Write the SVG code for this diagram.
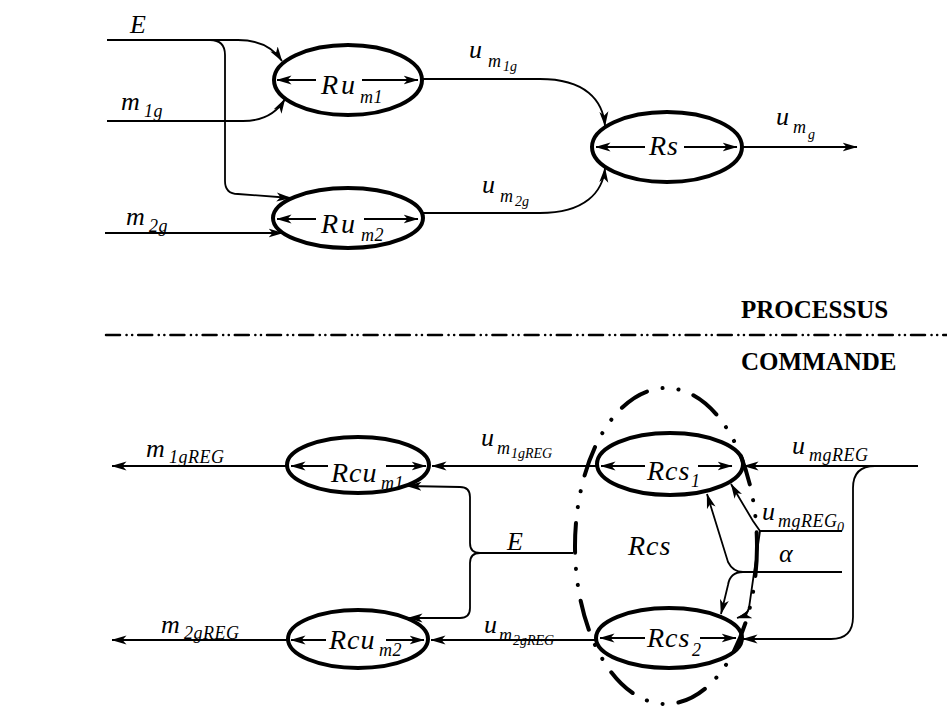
<svg xmlns="http://www.w3.org/2000/svg" width="947" height="706" viewBox="0 0 947 706">
<defs>
<marker id="ah" viewBox="0 0 15 10" refX="14.5" refY="5" markerWidth="15" markerHeight="10" markerUnits="userSpaceOnUse" orient="auto">
<path d="M0,0.5 L15,5 L0,9.5 L4,5 z" fill="#000"/>
</marker>
</defs>
<style>
.node ellipse{fill:none;stroke:#000;stroke-width:4}
.ln{fill:none;stroke:#000;stroke-width:1.8}
.ar{fill:none;stroke:#000;stroke-width:1.8;marker-end:url(#ah)}
text{font-family:"Liberation Serif","Times New Roman",serif;font-style:italic;fill:#000}
.lab{font-size:26px}
.big{font-size:28px;letter-spacing:1px}
.wide{letter-spacing:3px}
.sub{font-size:18px;letter-spacing:0.5px}
.ss{font-size:14px}
.hdr{font-style:normal;font-weight:bold;font-size:25px}
.div{fill:none;stroke:#000;stroke-width:2.5;stroke-linecap:round;stroke-dasharray:14 6.5 0.1 5.5 0.1 6}
.grp{fill:none;stroke:#000;stroke-width:4;stroke-linecap:round;stroke-dasharray:30 16 0.1 16 0.1 16}
</style>

<g id="connectors">
<path class="ar" d="M107,40 L238,40 Q268,40 282,61"/>
<path class="ar" d="M210,40 Q225,40 225,55 L225,181 Q225,194 238,194 L291,198"/>
<path class="ar" d="M107,121 L243,121 Q272,121 285,99"/>
<path class="ar" d="M105,233 L283,233"/>
<path class="ar" d="M422,79 L540,79 C585,79 603,100 605,126"/>
<path class="ar" d="M422,213 L540,213 C585,213 603,192 605,168"/>
<path class="ar" d="M742,147 L857,147"/>
<path class="ar" d="M287,466 L112,466"/>
<path class="ar" d="M288,640 L112,640"/>
<path class="ar" d="M597,466 L432,466"/>
<path class="ar" d="M596,640 L431,640"/>
<path class="ln" d="M573,553 L480,553"/>
<path class="ar" d="M480,553 Q470,553 470,543 L470,497 Q470,487 460,487 L407,486"/>
<path class="ar" d="M480,553 Q470,553 470,563 L470,608 Q470,618 460,618 L408,618"/>
<path class="ar" d="M918,466 L744,466"/>
<path class="ar" d="M875,466 Q853,466 853,488 L853,617 Q853,639 831,639 L743,639"/>
<path class="ln" d="M842,531 L760,531"/>
<path class="ar" d="M760,531 L753,521 L731,484"/>
<path class="ar" d="M760,531 L749,608 Q747,615 737,618"/>
<path class="ln" d="M842,572 L743,572"/>
<path class="ar" d="M743,572 Q733,572 728,562 L707,494"/>
<path class="ar" d="M743,572 Q730,572 728,585 L721,614"/>
<path class="ar" d="M316,80 L277,80"/>
<path class="ar" d="M362,80 L418,80"/>
<path class="ar" d="M316,219 L277,219"/>
<path class="ar" d="M364,219 L418,219"/>
<path class="ar" d="M645,147 L596,147"/>
<path class="ar" d="M684,147 L737,147"/>
<path class="ar" d="M328,466 L291,466"/>
<path class="ar" d="M386,466 L426,466"/>
<path class="ar" d="M326,640 L291,640"/>
<path class="ar" d="M386,640 L424,640"/>
<path class="ar" d="M645,466 L601,466"/>
<path class="ar" d="M698,466 L732,466"/>
<path class="ar" d="M645,638 L600,638"/>
<path class="ar" d="M700,638 L736,638"/>
</g>

<g id="Ru_m1" class="node">
<ellipse cx="348" cy="80" rx="74" ry="35"/>
<text class="big wide" x="321" y="94">Ru<tspan class="sub" x="360" y="103">m1</tspan></text>
</g>
<g id="Ru_m2" class="node">
<ellipse cx="348" cy="218" rx="75" ry="30"/>
<text class="big wide" x="321" y="233">Ru<tspan class="sub" x="361" y="241">m2</tspan></text>
</g>
<g id="Rs" class="node">
<ellipse cx="667" cy="147" rx="75" ry="35"/>
<text class="big" x="649" y="155">Rs</text>
</g>
<g id="Rcu_m1" class="node">
<ellipse cx="358" cy="465" rx="71" ry="28"/>
<text class="big" x="331" y="482">Rcu<tspan class="sub" x="381" y="489">m1</tspan></text>
</g>
<g id="Rcu_m2" class="node">
<ellipse cx="358" cy="639" rx="70" ry="29"/>
<text class="big" x="329" y="649">Rcu<tspan class="sub" x="379" y="656">m2</tspan></text>
</g>
<g id="Rcs1" class="node">
<ellipse cx="670" cy="464" rx="73" ry="31"/>
<text class="big" x="647" y="480">Rcs<tspan class="sub" x="691" y="487">1</tspan></text>
</g>
<g id="Rcs2" class="node">
<ellipse cx="669" cy="638" rx="73" ry="30"/>
<text class="big" x="647" y="647">Rcs<tspan class="sub" x="692" y="656">2</tspan></text>
</g>
<g id="Rcs">
<ellipse class="grp" cx="666" cy="546" rx="91" ry="158"/>
<text class="big" x="628" y="555">Rcs</text>
</g>

<g id="labels">
<text class="lab" x="130" y="33">E</text>
<text class="lab" x="121" y="110">m<tspan class="sub" x="144" y="117">1g</tspan></text>
<text class="lab" x="126" y="225">m<tspan class="sub" x="149" y="232">2g</tspan></text>
<text class="lab" x="469" y="58">u<tspan class="sub" x="488" y="67">m</tspan><tspan class="ss" x="503" y="71">1g</tspan></text>
<text class="lab" x="482" y="193">u<tspan class="sub" x="500" y="202">m</tspan><tspan class="ss" x="515" y="206">2g</tspan></text>
<text class="lab" x="776" y="125">u<tspan class="sub" x="793" y="133">m</tspan><tspan class="ss" x="808" y="139">g</tspan></text>
<text class="lab" x="146" y="457">m<tspan class="sub" x="169" y="463">1gREG</tspan></text>
<text class="lab" x="161" y="633">m<tspan class="sub" x="184" y="639">2gREG</tspan></text>
<text class="lab" x="481" y="446">u<tspan class="sub" x="497" y="454">m</tspan><tspan class="ss" x="511" y="458">1gREG</tspan></text>
<text class="lab" x="484" y="633">u<tspan class="sub" x="499" y="641">m</tspan><tspan class="ss" x="513" y="645">2gREG</tspan></text>
<text class="lab" x="507" y="550">E</text>
<text class="lab" x="792" y="454">u<tspan class="sub" x="809" y="461">mgREG</tspan></text>
<text class="lab" x="762" y="520">u<tspan class="sub" x="778" y="527">mgREG</tspan><tspan class="ss" x="837" y="532">0</tspan></text>
<text class="lab" x="779" y="562">α</text>
</g>

<g id="divider">
<line class="div" x1="106" y1="335" x2="947" y2="335"/>
<text class="hdr" x="741" y="318">PROCESSUS</text>
<text class="hdr" x="741" y="370">COMMANDE</text>
</g>
</svg>
